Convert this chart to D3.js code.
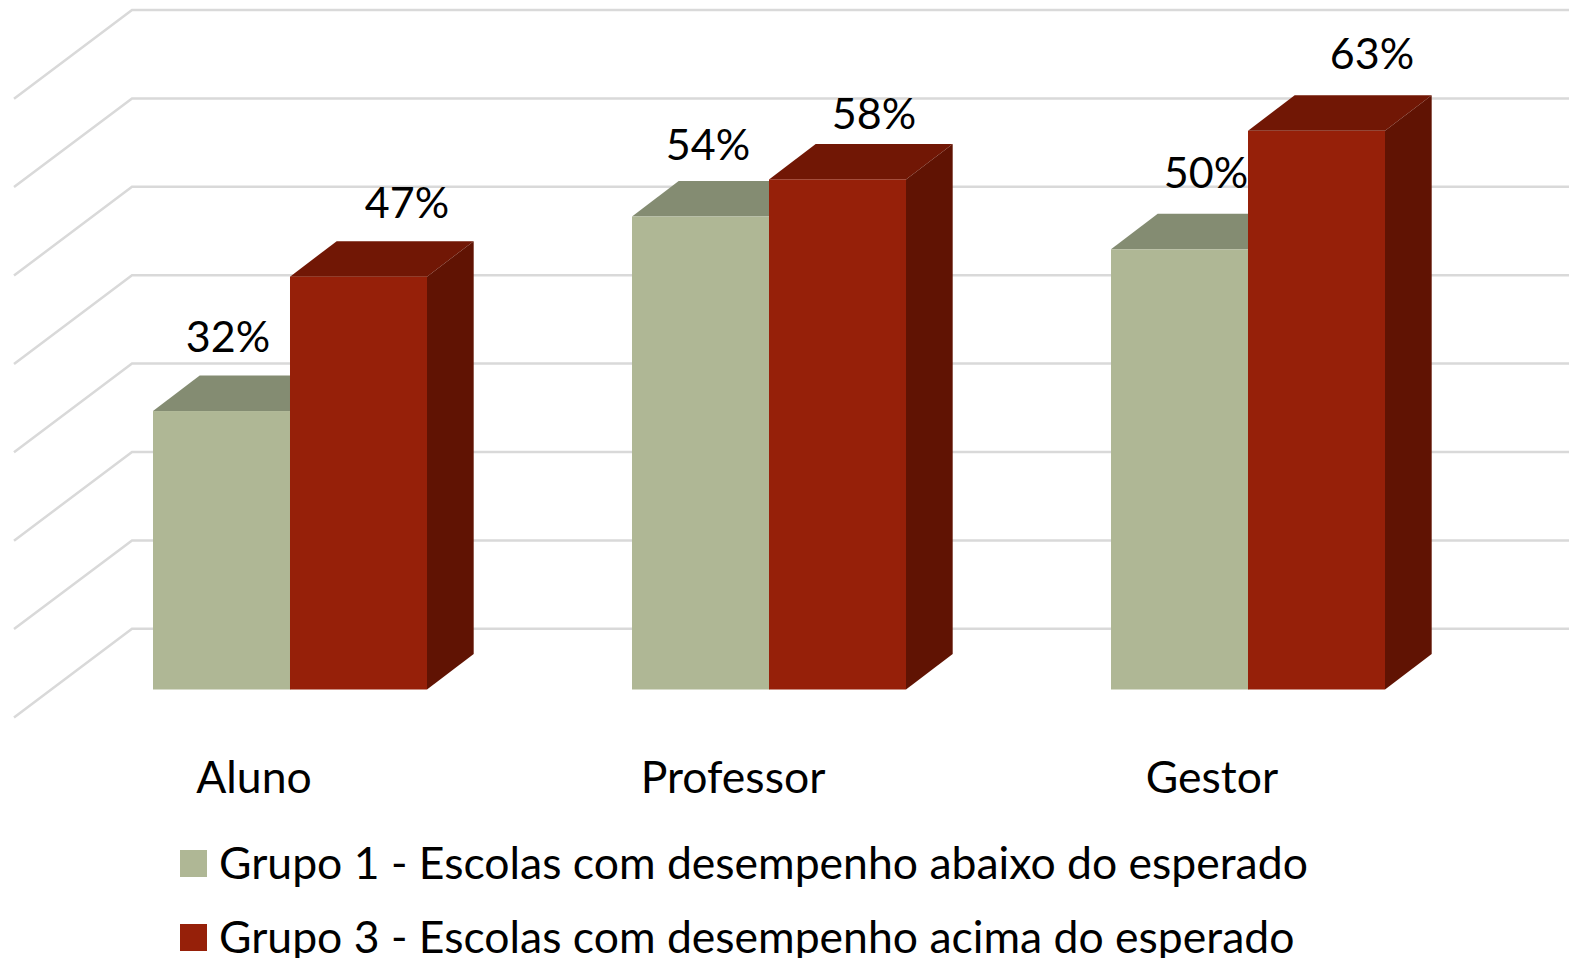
<!DOCTYPE html>
<html lang="pt">
<head>
	<meta charset="utf-8"/>
	<title>Grupos de escolas</title>
	<script src="https://d3js.org/d3.v7.min.js" charset="utf-8"></script>
	<style>
		html, body { margin: 0; background: #fff; }
		svg { display: block; }
		text { font-family: Lato, "Open Sans", sans-serif; fill: #000; }
		.grid { fill: none; stroke: #d9d9d9; stroke-width: 2.5px; }
	</style>
</head>
<body>
<div id="chart"></div>

<script>
	// data
	var categories = ["Aluno", "Professor", "Gestor"];
	var seriesNames = ["Grupo 1 - Escolas com desempenho abaixo do esperado",
		"Grupo 3 - Escolas com desempenho acima do esperado"];
	var grupo1 = [31.5, 53.5, 49.8];
	var grupo3 = [46.7, 57.7, 63.2];
	var gridTicks = [0, 10, 20, 30, 40, 50, 60, 70];

	var width = 1573,
		height = 958;

	var fontSize = 44.5,
		labelFontSize = 43;

	// front, top and side colour of each series
	var colors = [
		{front: "#afb795", top: "#848c72", side: "#6a7058"},
		{front: "#962009", top: "#711705", side: "#601303"}
	];

	// oblique offset of a bar's depth and of the floor/back wall
	var barDx = 46.7, barDy = 35.5;
	var wallDx = 118, wallDy = 88.7;
	var floorY = 689.5;

	var svg = d3.select("#chart").append("svg")
		.attr("width", width)
		.attr("height", height);

	var x0 = d3.scaleBand()
		.domain(categories)
		.range([153, 1385])
		.paddingInner(0.428);

	var x1 = d3.scaleBand()
		.domain([0, 1])
		.range([0, x0.bandwidth()]);

	var y = d3.scaleLinear()
		.domain([0, 70])
		.range([floorY, floorY - 618.8]);

	// gridlines: front edge of the floor up to the back wall, then across
	var wallShift = 60.7;
	svg.append("g").selectAll("path")
		.data(gridTicks)
		.enter().append("path")
		.attr("class", "grid")
		.attr("d", function(d) {
			var by = y(d) - wallShift;
			return d3.line()([[14, by + wallDy], [14 + wallDx, by], [1569, by]]);
		});

	// bars
	var rows = [];
	[grupo1, grupo3].forEach(function(values, s) {
		values.forEach(function(v, i) {
			rows.push({cat: categories[i], s: s, v: v, i: i});
		});
	});

	var bars = svg.append("g").selectAll("g")
		.data(rows)
		.enter().append("g");

	function poly(points) { return d3.line()(points) + "Z"; }

	bars.append("path")
		.attr("fill", function(d) { return colors[d.s].top; })
		.attr("d", function(d) {
			var l = x0(d.cat) + x1(d.s), r = l + x1.bandwidth(), t = y(d.v);
			return poly([[l, t], [l + barDx, t - barDy], [r + barDx, t - barDy], [r, t]]);
		});

	bars.append("path")
		.attr("fill", function(d) { return colors[d.s].side; })
		.attr("d", function(d) {
			var r = x0(d.cat) + x1(d.s) + x1.bandwidth(), t = y(d.v);
			return poly([[r, t], [r + barDx, t - barDy], [r + barDx, floorY - barDy], [r, floorY]]);
		});

	bars.append("rect")
		.attr("fill", function(d) { return colors[d.s].front; })
		.attr("x", function(d) { return x0(d.cat) + x1(d.s); })
		.attr("y", function(d) { return y(d.v); })
		.attr("width", x1.bandwidth())
		.attr("height", function(d) { return floorY - y(d.v); });

	// the labels were placed by hand in the original, so each one has its own nudge
	var labelNudgeX = [[75, 76, 95], [117, 105, 124]];
	var labelNudgeY = [[-59, -57, -61], [-59, -50, -62]];
	var fmt = d3.format(".0f");

	svg.append("g").selectAll("text")
		.data(rows)
		.enter().append("text")
		.attr("text-anchor", "middle")
		.attr("font-size", labelFontSize)
		.attr("x", function(d) { return x0(d.cat) + x1(d.s) + labelNudgeX[d.s][d.i]; })
		.attr("y", function(d) { return y(d.v) + labelNudgeY[d.s][d.i]; })
		.text(function(d) { return fmt(d.v) + "%"; });

	// category axis
	var axis = svg.append("g")
		.attr("transform", "translate(-36,793)")
		.call(d3.axisBottom(x0).tickSize(0).tickPadding(0));
	axis.select(".domain").remove();
	axis.selectAll("text")
		.attr("y", 0)
		.attr("dy", 0)
		.attr("font-size", fontSize)
		.style("font-family", "Lato");

	// legend
	var legend = svg.append("g").selectAll("g")
		.data(seriesNames)
		.enter().append("g")
		.attr("transform", function(d, i) { return "translate(180," + (850 + i * 74) + ")"; });

	legend.append("rect")
		.attr("width", 27)
		.attr("height", 27)
		.attr("fill", function(d, i) { return colors[i].front; });

	legend.append("text")
		.attr("x", 39)
		.attr("y", 28.5)
		.attr("font-size", fontSize)
		.text(function(d) { return d; });
</script>
</body>
</html>
